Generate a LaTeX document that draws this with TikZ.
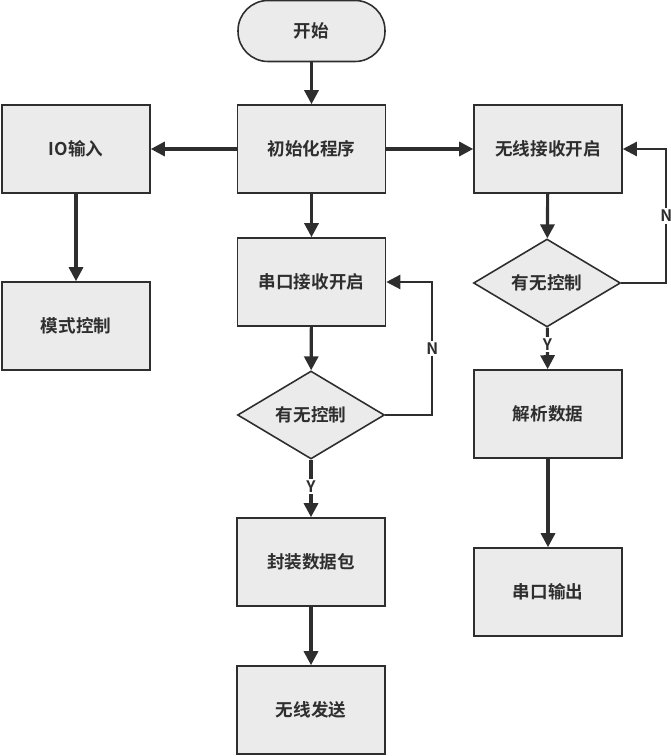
\documentclass[tikz,border=0pt]{standalone}
\usepackage{fontspec}
\setmainfont{Noto Sans CJK SC}[BoldFont={Noto Sans CJK SC Bold}]
\usepackage{tikz}
\usetikzlibrary{arrows.meta,shapes.geometric,positioning,calc}
\definecolor{boxfill}{HTML}{EBEBEB}
\definecolor{ink}{HTML}{2E2E2E}
\tikzstyle{box}=[rectangle, draw=ink, fill=boxfill, line width=0.9pt, minimum width=2.96cm, minimum height=1.76cm, inner sep=0pt, font=\bfseries\normalsize, text=ink]
\tikzstyle{term}=[box, minimum width=2.94cm, minimum height=1.22cm, rounded corners=0.6cm]
\tikzstyle{decide}=[diamond, draw=ink, fill=boxfill, line width=0.9pt, minimum width=2.94cm, minimum height=1.76cm, inner sep=0pt, font=\bfseries\normalsize, text=ink]
\tikzstyle{flow}=[draw=ink, line width=1.8pt, -{Triangle[length=2.8mm,width=2.8mm]}]
\tikzstyle{back}=[draw=ink, line width=1.3pt, -{Triangle[length=2.8mm,width=2.8mm]}]
\tikzstyle{lab}=[fill=white, inner sep=1pt, font=\bfseries\small, text=ink]

\begin{document}
\begin{tikzpicture}[x=0.02cm, y=-0.02cm]
        \useasboundingbox (0,0) rectangle (670,756);
        %
        \node at (311.5,31) [term] (start) {开始};
        \node at (311.5,149) [box] (init) {初始化程序};
        \node at (76,149) [box] (io) {IO输入};
        \node at (76,326) [box] (mode) {模式控制};
        % serial branch
        \node at (311.5,282) [box] (uart) {串口接收开启};
        \node at (311,415) [decide] (ask1) {有无控制};
        \node at (311,562) [box] (pack) {封装数据包};
        \node at (311,710) [box] (send) {无线发送};
        % wireless branch
        \node at (548,149) [box] (radio) {无线接收开启};
        \node at (547,283) [decide] (ask2) {有无控制};
        \node at (548,414) [box] (parse) {解析数据};
        \node at (548,592) [box] (out) {串口输出};
        %
        \draw [flow] (start) -- (init);
        \draw [flow] (init) -- (io);
        \draw [flow] (init) -- (radio);
        \draw [flow] (init) -- (uart);
        \draw [flow] (io) -- (mode);
        \draw [flow] (uart) -- (ask1);
        \draw [flow] (ask1) -- node[lab, pos=0.47] {Y} (pack);
        \draw [flow] (pack) -- (send);
        \draw [back] (ask1.east) -- ++(47,0) |- node[lab, pos=0.25] {N} (uart.east);
        \draw [flow] (radio) -- (ask2);
        \draw [flow] (ask2) -- node[lab, pos=0.4] {Y} (parse);
        \draw [flow] (parse) -- (out);
        \draw [back] (ask2.east) -- ++(45,0) |- node[lab, pos=0.25] {N} (radio.east);
      \end{tikzpicture}
\end{document}
